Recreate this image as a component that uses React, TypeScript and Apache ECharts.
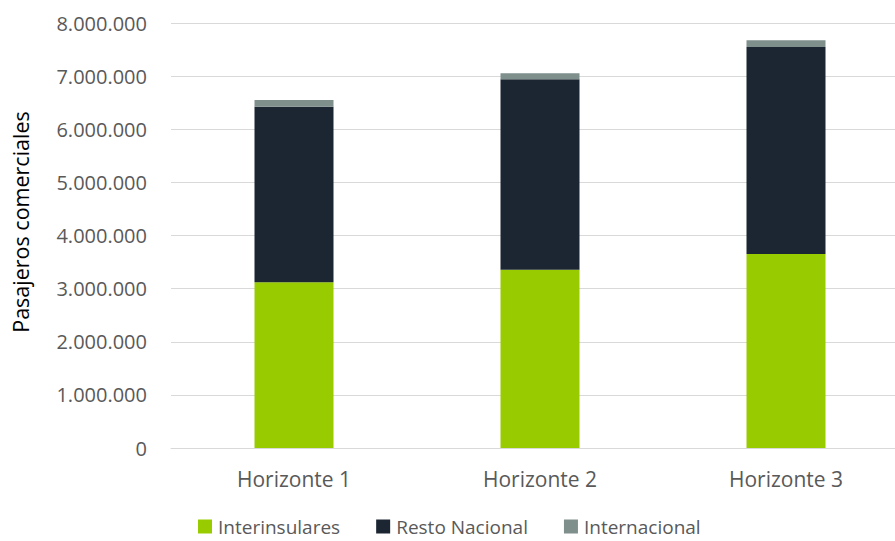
import React, { useEffect, useRef } from "react";
import * as echarts from "echarts";

const categories = ["Horizonte 1", "Horizonte 2", "Horizonte 3"];
const interinsulares = [3119000, 3356000, 3652000];
const restoNacional = [3306000, 3584000, 3896000];
const internacional = [126000, 113000, 126000];
const yTicks = [0, 1000000, 2000000, 3000000, 4000000, 5000000, 6000000, 7000000, 8000000];
const yAxisTitle = "Pasajeros comerciales";

const FONT = "'Open Sans', 'Liberation Sans', sans-serif";
const TEXT = "#595959";

function fmt(v: number): string {
  return String(Math.round(v)).replace(/\B(?=(\d{3})+(?!\d))/g, ".");
}

export default function App() {
  const ref = useRef<HTMLDivElement>(null);
  useEffect(() => {
    if (!ref.current) return;
    const chart = echarts.init(ref.current, null, { renderer: "svg" });
    chart.setOption({
      animation: false,
      backgroundColor: "#ffffff",
      grid: { left: 171, top: 23, width: 738, bottom: 93, containLabel: false },
      legend: {
        top: 517,
        left: 198,
        padding: 0,
        itemWidth: 14,
        itemHeight: 14,
        itemGap: 36,
        icon: "rect",
        textStyle: {
          color: TEXT,
          fontSize: 19,
          lineHeight: 18,
          fontFamily: FONT,
          padding: [0, 0, 0, 1],
        },
        data: ["Interinsulares", "Resto Nacional", "Internacional"],
      },
      graphic: [
        {
          type: "text",
          x: 20,
          y: 222,
          rotation: Math.PI / 2,
          style: {
            text: yAxisTitle,
            fill: "#000000",
            fontSize: 21.5,
            fontFamily: FONT,
            align: "center",
            verticalAlign: "middle",
          },
        },
      ],
      xAxis: {
        type: "category",
        data: categories,
        axisLine: { show: true, lineStyle: { color: "#D9D9D9", width: 1 } },
        axisTick: { show: false },
        axisLabel: { color: TEXT, fontSize: 21, fontFamily: FONT, margin: 20 },
      },
      yAxis: {
        type: "value",
        min: yTicks[0],
        max: yTicks[yTicks.length - 1],
        interval: 1000000,
        axisLine: { show: false },
        axisTick: { show: false },
        splitLine: { lineStyle: { color: "#D9D9D9", width: 1 } },
        axisLabel: {
          color: TEXT,
          fontSize: 20,
          fontFamily: FONT,
          margin: 24,
          formatter: (v: number) => fmt(v),
        },
      },
      series: [
        {
          name: "Interinsulares",
          type: "bar",
          stack: "total",
          barWidth: 79,
          data: interinsulares,
          itemStyle: { color: "#99CC00" },
        },
        {
          name: "Resto Nacional",
          type: "bar",
          stack: "total",
          barWidth: 79,
          data: restoNacional,
          itemStyle: { color: "#1B2632" },
        },
        {
          name: "Internacional",
          type: "bar",
          stack: "total",
          barWidth: 79,
          data: internacional,
          itemStyle: { color: "#7F8F8C" },
        },
      ],
    });
    return () => chart.dispose();
  }, []);
  return (
    <div
      style={{
        position: "fixed",
        left: 0,
        top: 0,
        width: 895,
        height: 541,
        overflow: "hidden",
        background: "#fff",
      }}
    >
      <div ref={ref} style={{ width: 910, height: 541 }} />
    </div>
  );
}
